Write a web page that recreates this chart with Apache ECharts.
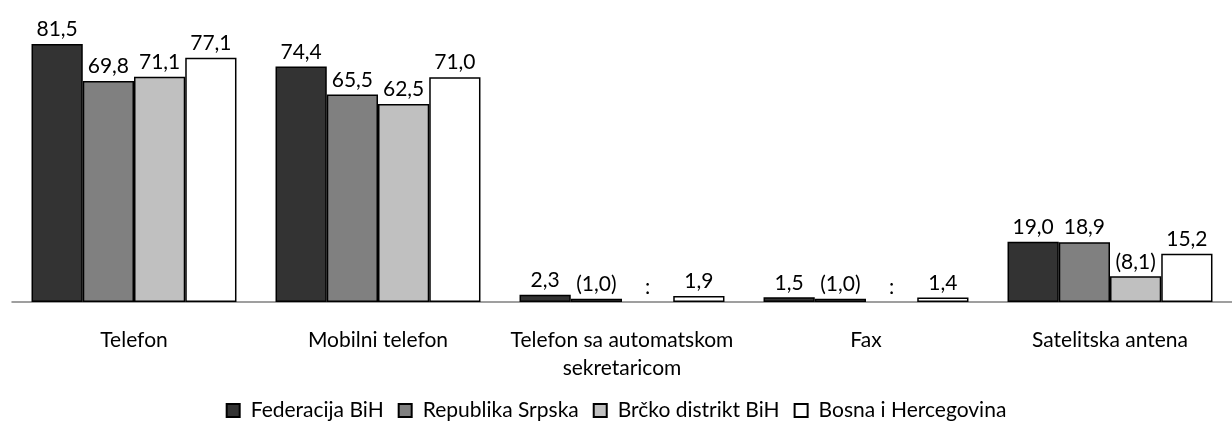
<!DOCTYPE html>
<html>
<head>
<meta charset="utf-8">
<script src="https://cdn.jsdelivr.net/npm/echarts@6/dist/echarts.min.js"></script>
<style>
html, body { margin: 0; padding: 0; background: #fff; }
#chartCont { width: 1232px; height: 430px; }
</style>
</head>
<body>
<div id="chartCont"></div>
<script>
var categories = ['Telefon', 'Mobilni telefon', 'Telefon sa automatskom\nsekretaricom', 'Fax', 'Satelitska antena'];
var seriesNames = ['Federacija BiH', 'Republika Srpska', 'Brčko distrikt BiH', 'Bosna i Hercegovina'];
var fbih = [81.5, 74.4, 2.3, 1.5, 19.0];
var rs = [69.8, 65.5, 1.0, 1.0, 18.9];
var brcko = [71.1, 62.5, null, null, 8.1];
var bih = [77.1, 71.0, 1.9, 1.4, 15.2];
// values shown in brackets (low reliability)
var rsBracket = [false, false, true, true, false];
var brckoBracket = [false, false, false, false, true];
var noBracket = [false, false, false, false, false];

var colors = ['#333333', '#808080', '#c0c0c0', '#ffffff'];
var font = 'Lato';

window.onload = function() {
    setBars();
};

function fmt(v, br) {
    var s = v.toFixed(1).replace('.', ',');
    return br ? '(' + s + ')' : s;
}

function buildData(values, brackets) {
    return values.map(function(v, i) {
        if (v === null) {
            return {
                value: 0,
                itemStyle: { borderWidth: 0 },
                label: { formatter: ':' }
            };
        }
        return {
            value: v,
            label: { formatter: fmt(v, brackets[i]) }
        };
    });
}

function setBars() {
    var ec = echarts.init(document.getElementById('chartCont'));
    var all = [
        [fbih, noBracket],
        [rs, rsBracket],
        [brcko, brckoBracket],
        [bih, noBracket]
    ];
    ec.setOption({
        animation: false,
        textStyle: { fontFamily: font },
        grid: {
            left: 12,
            right: -17,
            top: 17,
            bottom: 128
        },
        legend: {
            bottom: 4,
            left: 'center',
            itemWidth: 13,
            itemHeight: 13,
            itemGap: 14,
            icon: 'rect',
            textStyle: {
                color: '#000',
                fontSize: 21,
                fontFamily: font,
                padding: [0, 0, 0, 6]
            },
            data: seriesNames
        },
        xAxis: {
            type: 'category',
            data: categories,
            axisLine: {
                lineStyle: { color: '#808080', width: 1.5 }
            },
            axisTick: {
                length: 7,
                lineStyle: { color: '#808080', width: 1.5 }
            },
            axisLabel: {
                color: '#000',
                fontSize: 21,
                fontFamily: font,
                margin: 24,
                lineHeight: 28,
                interval: 0
            }
        },
        yAxis: {
            type: 'value',
            min: 0,
            max: 90,
            show: false,
            splitLine: { show: false }
        },
        series: all.map(function(s, k) {
            return {
                name: seriesNames[k],
                type: 'bar',
                barGap: '0%',
                barCategoryGap: '16%',
                itemStyle: {
                    color: colors[k],
                    borderColor: '#000',
                    borderWidth: 1.5
                },
                label: {
                    show: true,
                    position: 'top',
                    distance: 4,
                    color: '#000',
                    fontSize: 21,
                    fontFamily: font
                },
                data: buildData(s[0], s[1])
            };
        })
    });
}
</script>
</body>
</html>
